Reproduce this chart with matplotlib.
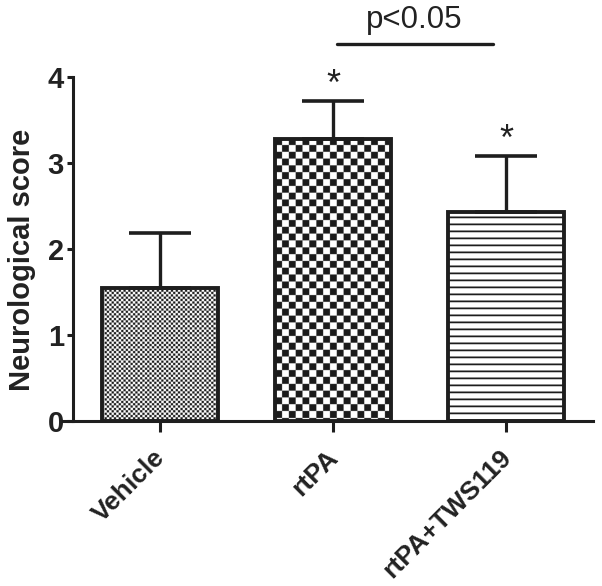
import numpy as np
import matplotlib
matplotlib.use("Agg")
import matplotlib.pyplot as plt
import matplotlib.transforms as mtransforms

categories = ["Vehicle", "rtPA", "rtPA+TWS119"]
means = [1.55, 3.28, 2.43]
sem = [0.64, 0.44, 0.65]
stars = ["", "*", "*"]
yticks = [0, 1, 2, 3, 4]
sig_pair = (1, 2)
sig_text = "p<0.05"

INK = "#1e1e1e"
plt.rcParams["font.family"] = ["Liberation Sans", "DejaVu Sans"]

fig = plt.figure(figsize=(6.02, 5.86), dpi=100)
ax = fig.add_axes([63 / 602, (586 - 421) / 586, 530 / 602, 344 / 586])

x = np.arange(len(categories))
bars = ax.bar(x, means, width=0.67, facecolor="none", edgecolor=INK,
              linewidth=2.8, zorder=3)
ax.errorbar(x, means, yerr=[np.zeros(len(sem)), sem], fmt="none",
            ecolor=INK, elinewidth=2.4, capsize=22, capthick=2.6, zorder=2)

ax.set_xlim(-0.56, 2.5)
ax.set_ylim(0, 4)

fig.canvas.draw()


def pattern(kind, W, H, ss=4):
    yy, xx = np.mgrid[0:H * ss, 0:W * ss] / ss
    if kind == "fine":
        c = 2.35
        gx = np.floor(xx / c)
        gy = np.floor(yy / c)
        fx = (xx / c) - gx
        fy = (yy / c) - gy
        on = ((gx + gy) % 2 == 0) & (fx < 0.95) & (fy < 0.95)
        v = on.astype(float)
    elif kind == "check":
        c = 6.8
        v = ((np.floor(xx / c) + np.floor(yy / c)) % 2 == 0).astype(float)
    else:
        d = (H - yy)
        v = ((d % 7.0) < 1.6).astype(float)
    return 1 - v


kinds = ["fine", "check", "lines"]
for b, k in zip(bars, kinds):
    bb = b.get_window_extent()
    W, H = int(round(bb.width)), int(round(bb.height))
    img = pattern(k, W, H)
    im = ax.imshow(img, cmap="gray", vmin=-0.12, vmax=1.0,
                   extent=(b.get_x(), b.get_x() + b.get_width(), 0, b.get_height()),
                   aspect="auto", interpolation="antialiased", zorder=1)
    im.set_clip_path(b)

ax.set_xlim(-0.56, 2.5)
ax.set_ylim(0, 4)

for s in ["top", "right"]:
    ax.spines[s].set_visible(False)
ax.spines["left"].set_position(("data", -0.503))
for s in ["left", "bottom"]:
    ax.spines[s].set_linewidth(2.2)
    ax.spines[s].set_color(INK)

ax.set_yticks(yticks)
ax.set_yticklabels([str(t) for t in yticks], fontsize=21, fontweight="bold", color="#222")
ax.tick_params(axis="y", length=4.5, width=2.2, color=INK, pad=2)
ax.set_xticks(x)
ax.set_xticklabels(categories, rotation=45, ha="right", va="baseline",
                   rotation_mode="anchor", fontsize=19, fontweight="bold", color="#222")
ax.tick_params(axis="x", length=8, width=2.2, color=INK, pad=19)
offset = mtransforms.ScaledTranslation(6 / 100, 0, fig.dpi_scale_trans)
for lab in ax.get_xticklabels():
    lab.set_transform(lab.get_transform() + offset)

ax.set_ylabel("Neurological score", fontsize=21, fontweight="bold", color="#222")
ax.yaxis.set_label_coords(-0.05, 0.468)

for i, st in enumerate(stars):
    if st:
        ax.text(x[i], means[i] + sem[i] - 0.02, st, ha="center", va="bottom",
                fontsize=26, color="#222", clip_on=False)

a, bidx = sig_pair
ax.plot([x[a] + 0.02, x[bidx] - 0.08], [4.38, 4.38], color=INK, lw=2.4,
        solid_capstyle="round", clip_on=False)
ax.text((x[a] + x[bidx]) / 2 - 0.03, 4.66, sig_text, ha="center", va="center",
        fontsize=22.5, color="#222", clip_on=False)

fig.savefig("out.png", dpi=100)
